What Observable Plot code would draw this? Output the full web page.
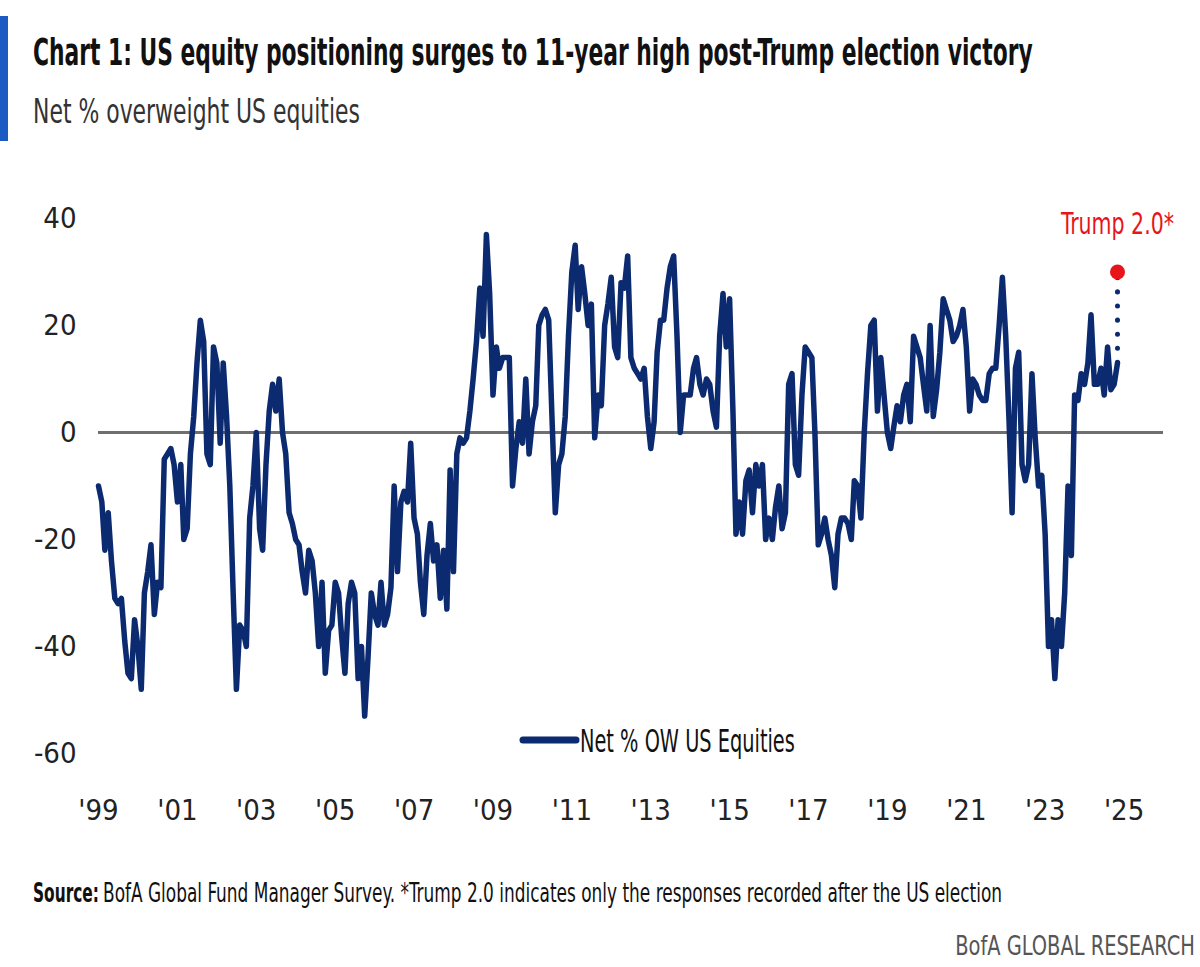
<!DOCTYPE html>
<html>
<head>
<meta charset="utf-8">
<script src="https://cdn.jsdelivr.net/npm/d3@7"></script>
<script src="https://cdn.jsdelivr.net/npm/@observablehq/plot@0.6"></script>
<style>
  html, body { margin: 0; padding: 0; background: #fff; }
  #page {
    position: relative; width: 1200px; height: 967px; overflow: hidden; background: #fff;
    font-family: "Liberation Sans Narrow", "Arial Narrow", "DejaVu Sans Condensed", "Roboto", sans-serif;
    font-stretch: condensed;
  }
  #page svg text { font-family: inherit; }
  #header { position: absolute; left: 0; top: 0; }
  #chart { position: absolute; left: 0; top: 165px; }
  #legend { position: absolute; left: 510px; top: 720px; }
  #footer { position: absolute; left: 0; top: 828px; }
</style>
</head>
<body>
<div id="page">
  <svg id="header" width="1200" height="165">
    <rect x="0" y="16" width="8" height="125" fill="#1d5bc4"></rect>
    <text id="title" x="33" y="65" font-size="38" font-weight="bold" fill="#111">Chart 1: US equity positioning surges to 11-year high post-Trump election victory</text>
    <text id="subtitle" x="33" y="123" font-size="34" fill="#333">Net % overweight US equities</text>
  </svg>
  <div id="chart"></div>
  <svg id="legend" width="320" height="44">
    <line x1="13" y1="20" x2="66" y2="20" stroke="#0b2a6f" stroke-width="7" stroke-linecap="round"></line>
    <text id="legendText" x="70" y="32" font-size="32" fill="#111">Net % OW US Equities</text>
  </svg>
  <svg id="footer" width="1200" height="139">
    <text id="srcLead" x="33" y="74" font-size="27" font-weight="bold" fill="#111">Source:</text>
    <text id="srcBody" x="103" y="74" font-size="27" fill="#111">BofA Global Fund Manager Survey. *Trump 2.0 indicates only the responses recorded after the US election</text>
    <text id="brand" x="1195" y="127" font-size="27" fill="#555" text-anchor="end">BofA GLOBAL RESEARCH</text>
  </svg>
</div>
<script>
// Net % of fund managers overweight US equities, monthly from Jan 1999 to Nov 2024
// (responses collected before the US election for the last month).
const netOverweightUS = [
  -10, -13, -22, -15, -24, -31, -32, -31, -39, -45, -46, -35,   // 1999
  -40, -48, -30, -26, -21, -34, -28, -29,  -5,  -4,  -3,  -6,   // 2000
  -13,  -6, -20, -18,  -4,   3,  13,  21,  17,  -4,  -6,  16,   // 2001
   13,  -2,  13,   3, -10, -30, -48, -36, -37, -40, -16, -10,   // 2002
    0, -18, -22,  -6,   4,   9,   4,  10,   0,  -4, -15, -17,   // 2003
  -20, -21, -26, -30, -22, -24, -30, -40, -28, -45, -37, -36,   // 2004
  -28, -30, -38, -45, -32, -28, -30, -46, -40, -53, -42, -30,   // 2005
  -34, -36, -28, -36, -34, -29, -10, -26, -13, -11, -13,  -2,   // 2006
  -16, -19, -28, -34, -23, -17, -24, -21, -31, -22, -33,  -7,   // 2007
  -26,  -4,  -1,  -2,  -1,   4,  10,  17,  27,  18,  37,  26,   // 2008
    7,  16,  12,  14,  14,  14, -10,  -3,   2,  -2,  10,  -4,   // 2009
    2,   5,  20,  22,  23,  21,   3, -15,  -6,  -4,   3,  18,   // 2010
   30,  35,  23,  31,  26,  20,  24,  -1,   7,   5,  20,  24,   // 2011
   29,  16,  14,  28,  27,  33,  14,  12,  11,  10,  12,   3,   // 2012
   -3,   2,  15,  21,  21,  27,  31,  33,  18,   0,   7,   7,   // 2013
    7,  12,  14,   9,   7,  10,   9,   4,   1,  18,  26,  16,   // 2014
   25,   4, -19, -13, -19,  -9,  -7, -15,  -6, -10,  -6, -20,   // 2015
  -16, -20, -14, -10, -18, -15,   9,  11,  -6,  -8,   7,  16,   // 2016
   15,  14,   0, -21, -19, -16, -20, -23, -29, -19, -16, -16,   // 2017
  -17, -20,  -9, -10, -16,   0,  11,  20,  21,   4,  14,   7,   // 2018
    0,  -3,   1,   5,   2,   7,   9,   2,  18,  16,  14,   9,   // 2019
    4,  20,   3,   8,  15,  25,  23,  21,  17,  18,  20,  23,   // 2020
   16,   4,  10,   9,   7,   6,   6,  11,  12,  12,  20,  29,   // 2021
   18,   2, -15,  12,  15,  -6,  -9,  -6,  11,  -1, -10,  -8,   // 2022
  -19, -40, -35, -46, -35, -40, -30, -10, -23,   7,   6,  11,   // 2023
    9,  13,  22,   9,   9,  12,   7,  16,   8,   9,  13         // 2024
];

// Nov 2024 reading using only the responses recorded after the election
const postElectionLabel = "Trump 2.0*";
const postElectionValue = 30;

// Axis tick values
const xTickYears = [1999, 2001, 2003, 2005, 2007, 2009, 2011, 2013, 2015, 2017, 2019, 2021, 2023, 2025];
const yTickValues = [-60, -40, -20, 0, 20, 40];

const navy = "#0b2a6f";
const red = "#e8141b";

const series = netOverweightUS.map((v, i) => ({date: new Date(Date.UTC(1999, i, 1)), value: v}));
const last = series[series.length - 1];
const postElection = [{date: last.date, from: last.value, value: postElectionValue, label: postElectionLabel}];
const xTicks = xTickYears.map(y => new Date(Date.UTC(y, 0, 1)));

const chart = Plot.plot({
  width: 1200,
  height: 663,
  marginLeft: 98,
  marginRight: 37,
  marginTop: 53,
  marginBottom: 75,
  style: {
    fontFamily: '"Liberation Sans Narrow", "Arial Narrow", "DejaVu Sans Condensed", Roboto, sans-serif',
    color: "#222",
    background: "transparent"
  },
  x: {type: "utc", domain: [new Date(Date.UTC(1999, 0, 1)), new Date(Date.UTC(2026, 0, 1))]},
  y: {domain: [-60, 40]},
  marks: [
    Plot.axisY(yTickValues, {tickSize: 0, tickPadding: 22, fontSize: 29, tickFormat: d => String(d)}),
    Plot.axisX(xTicks, {tickSize: 0, tickPadding: 46, fontSize: 29,
      tickFormat: d => "'" + String(d.getUTCFullYear()).slice(2)}),
    Plot.ruleY([0], {stroke: "#6f6f6f", strokeWidth: 3}),
    Plot.line(series, {x: "date", y: "value", stroke: navy, strokeWidth: 5.5, strokeLinejoin: "round"}),
    Plot.ruleX(postElection, {x: "date", y1: "from", y2: "value", stroke: navy, strokeWidth: 5,
      strokeLinecap: "round", strokeDasharray: "0.1,14"}),
    Plot.dot(postElection, {x: "date", y: "value", r: 7.5, fill: red}),
    Plot.text(postElection, {x: "date", y: "value", text: "label", dy: -48, fill: red, fontSize: 31})
  ]
});

document.getElementById("chart").appendChild(chart);

// Squeeze a text horizontally to a target width, keeping its anchor point fixed.
function fitWidth(el, target) {
  const natural = el.getComputedTextLength();
  if (!natural) return;
  const x0 = +el.getAttribute("x") || 0;
  const s = target / natural;
  const prior = el.getAttribute("transform");
  if (prior && !el.hasAttribute("x")) {
    // positioned by translate(): scaling after it keeps the anchor in place
    el.setAttribute("transform", `${prior} scale(${s},1)`);
  } else {
    el.setAttribute("transform", `${prior || ""} translate(${x0},0) scale(${s},1) translate(${-x0},0)`);
  }
}
fitWidth(document.getElementById("title"), 1000);
fitWidth(document.getElementById("subtitle"), 327);
fitWidth(document.getElementById("legendText"), 215);
fitWidth(document.getElementById("srcLead"), 66);
fitWidth(document.getElementById("srcBody"), 900);
fitWidth(document.getElementById("brand"), 240);

// Condensed look for the annotation label
for (const t of chart.querySelectorAll("text")) {
  if (t.textContent === postElectionLabel) fitWidth(t, 113);
}
</script>
</body>
</html>
